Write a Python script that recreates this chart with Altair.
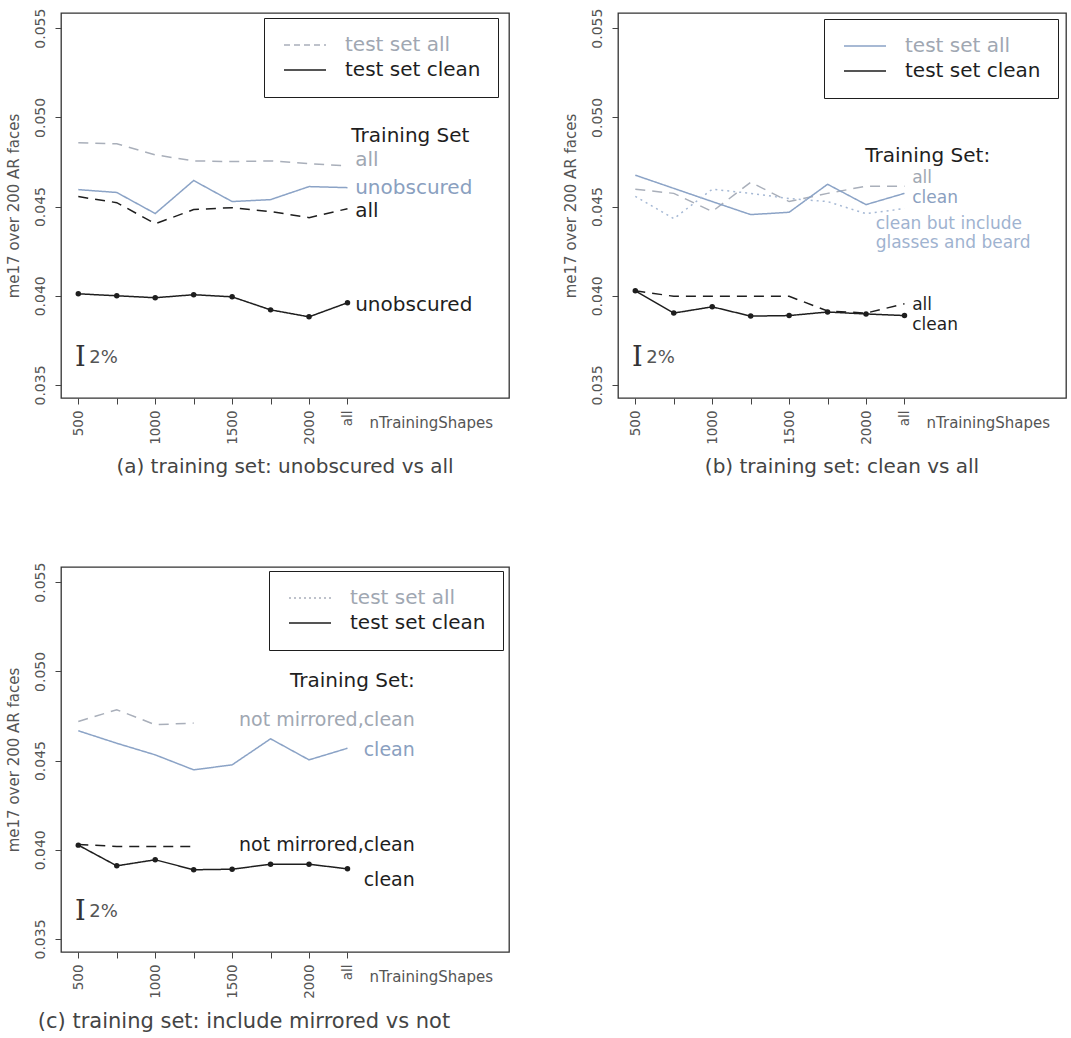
import altair as alt
import pandas as pd

# ---------------- data ----------------
x_ticks = ["500", "750", "1000", "1250", "1500", "1750", "2000", "all"]
y_ticks = [0.035, 0.040, 0.045, 0.050, 0.055]

# Panel (a): training set unobscured vs all
a_all_all = [0.04858, 0.04852, 0.04790, 0.04756, 0.04752, 0.04756, 0.04740, 0.04728]
a_all_unob = [0.04595, 0.04579, 0.04461, 0.04646, 0.04528, 0.04539, 0.04612, 0.04606]
a_clean_all = [0.04556, 0.04522, 0.04404, 0.04483, 0.04494, 0.04472, 0.04438, 0.04488]
a_clean_unob = [0.04011, 0.04000, 0.03989, 0.04006, 0.03994, 0.03921, 0.03882, 0.03961]

# Panel (b): training set clean vs all
b_all_all = [0.04597, 0.04574, 0.04472, 0.04636, 0.04528, 0.04574, 0.04614, 0.04614]
b_all_clean = [0.04676, 0.04602, 0.04528, 0.04455, 0.04468, 0.04625, 0.04511, 0.04574]
b_all_glasses = [0.04557, 0.04432, 0.04597, 0.04574, 0.04545, 0.04528, 0.04460, 0.04489]
b_clean_all = [0.04028, 0.03997, 0.03997, 0.03997, 0.03997, 0.03915, 0.03903, 0.03955]
b_clean_clean = [0.04028, 0.03903, 0.03938, 0.03886, 0.03889, 0.03909, 0.03898, 0.03889]

# Panel (c): include mirrored vs not
c_all_notmirr = [0.04719, 0.04785, 0.04701, 0.04710]
c_all_clean = [0.04667, 0.04597, 0.04532, 0.04448, 0.04476, 0.04622, 0.04504, 0.04569]
c_clean_notmirr = [0.04030, 0.04019, 0.04019, 0.04019]
c_clean_clean = [0.04026, 0.03910, 0.03944, 0.03888, 0.03891, 0.03919, 0.03919, 0.03893]

# line-end labels (text, series, x index, y value)
a_lab_text = ["all", "unobscured", "all", "unobscured"]
a_lab_series = ["all_all", "all_unob", "clean_all", "clean_unob"]
a_lab_x = [7.2, 7.2, 7.2, 7.2]
a_lab_y = [0.04760, 0.04604, 0.04475, 0.03951]

b_lab_text = ["all", "clean", "clean but include\nglasses and beard", "all", "clean"]
b_lab_series = ["all_all", "all_clean", "all_glasses", "clean_all", "clean_clean"]
b_lab_x = [7.2, 7.2, 6.25, 7.2, 7.2]
b_lab_y = [0.04660, 0.04548, 0.04445, 0.03947, 0.03835]

c_lab_text = ["not mirrored,clean", "clean", "not mirrored,clean", "clean"]
c_lab_series = ["all_notmirr", "all_clean", "clean_notmirr", "clean_clean"]
c_lab_x = [8.75, 8.75, 8.75, 8.75]
c_lab_y = [0.04725, 0.04562, 0.04028, 0.03831]

headers = ["Training Set", "Training Set:", "Training Set:"]
header_x = [7.1, 5.98, 8.75]
header_y = [0.04897, 0.04784, 0.04944]

legend_labels = ["test set all", "test set clean"]
captions = ["(a) training set: unobscured vs all",
            "(b) training set: clean vs all",
            "(c) training set: include mirrored vs not"]
scale_bar_text = ["I", "2%"]
scale_bar_y = 0.0365

# ---------------- styles ----------------
FONT = "DejaVu Sans"
AXIS_C = "#555555"
BLACK = "#1e1e1e"
GRAY = "#a9afba"
BLUE = "#8ba3c6"
DOTC = "#a5b8d4"
GRAY_T = "#a0a7b2"
BLUE_T = "#8aa0c0"
DOT_T = "#9fb3d0"
SOLID = [1, 0]
DASH = [10, 7]
DOT = [2, 4]

W, H = 448, 385
X_DOM = [-0.45, 11.2]
Y_DOM = [0.03427, 0.05585]

shown = [t if (i % 2 == 0 or i == len(x_ticks) - 1) else "" for i, t in enumerate(x_ticks)]
label_js = "[" + ",".join("'" + s + "'" for s in shown) + "]"

X = alt.X("idx:Q", scale=alt.Scale(domain=X_DOM, nice=False, zero=False),
          axis=alt.Axis(values=list(range(len(x_ticks))), labelExpr=label_js + "[datum.value]",
                        labelAngle=270, labelAlign="right", labelBaseline="middle",
                        labelPadding=6, labelFont=FONT, labelFontSize=13.5, labelColor=AXIS_C,
                        tickSize=6, tickColor="#444", domain=False, grid=False,
                        title="nTrainingShapes", titleX=308, titleY=24, titleAlign="left",
                        titleBaseline="middle", titleAngle=0, titleFont=FONT, titleFontSize=15,
                        titleFontWeight="normal", titleColor=AXIS_C, labelOverlap=False))
Y = alt.Y("value:Q", scale=alt.Scale(domain=Y_DOM, nice=False, zero=False),
          axis=alt.Axis(values=y_ticks, format=".3f", labelAngle=270, labelAlign="center",
                        labelBaseline="bottom", labelPadding=8, labelFont=FONT, labelFontSize=14,
                        labelColor=AXIS_C, tickSize=6, tickColor="#444", domain=False, grid=False,
                        title="me17 over 200 AR faces", titleFont=FONT, titleFontSize=15,
                        titleFontWeight="normal", titleColor=AXIS_C, titlePadding=12))


def build_panel(series, styles, leg_styles, legend_pos, lab_text, lab_series, lab_x, lab_y,
                lab_align, lab_size, lab_colors, header, hx, hy, caption, caption_size,
                caption_dx, point_key):
    rows = []
    for key, vals in series.items():
        for i, v in enumerate(vals):
            rows.append({"idx": i, "value": v, "series": key})
    df = pd.DataFrame(rows)
    keys = legend_labels + list(series.keys())
    all_styles = dict(zip(legend_labels, leg_styles))
    all_styles.update(styles)
    col_range = [all_styles[k][0] for k in keys]
    dash_range = [all_styles[k][1] for k in keys]

    def leg():
        return alt.Legend(orient="none", legendX=legend_pos[0], legendY=legend_pos[1],
                          values=legend_labels, title=None,
                          symbolType="M-1,0H5", symbolSize=196, symbolStrokeWidth=1.4,
                          labelFont=FONT, labelFontSize=20, labelOffset=44, labelLimit=400,
                          labelColor=alt.ExprRef(expr="datum.label == 'test set all' ? '" + GRAY_T + "' : '" + BLACK + "'"),
                          padding=17, rowPadding=5, strokeColor=BLACK, fillColor="white")

    lines = alt.Chart(df).mark_line(strokeWidth=1.5).encode(
        x=X, y=Y,
        color=alt.Color("series:N", scale=alt.Scale(domain=keys, range=col_range), legend=leg()),
        strokeDash=alt.StrokeDash("series:N", scale=alt.Scale(domain=keys, range=dash_range), legend=leg()),
    )
    pts = alt.Chart(df[df["series"] == point_key]).mark_circle(size=30, color=BLACK, opacity=1).encode(x=X, y=Y)

    layers = [lines, pts]
    lab_df = pd.DataFrame({"text": lab_text, "series": lab_series, "idx": lab_x, "value": lab_y})
    for i in range(len(lab_df)):
        sub = lab_df.iloc[[i]]
        multi = "\n" in sub["text"].iloc[0]
        layers.append(alt.Chart(sub).mark_text(
            align=lab_align, baseline="top" if multi else "middle", font=FONT, fontSize=lab_size,
            color=lab_colors[sub["series"].iloc[0]], lineBreak="\n", lineHeight=19).encode(
            x=X, y=Y, text="text:N"))
    hdf = pd.DataFrame({"text": [header], "idx": [hx], "value": [hy]})
    layers.append(alt.Chart(hdf).mark_text(align=lab_align, baseline="middle", font=FONT,
                                           fontSize=20, color=BLACK).encode(x=X, y=Y, text="text:N"))
    sdf1 = pd.DataFrame({"text": [scale_bar_text[0]], "idx": [0], "value": [scale_bar_y]})
    sdf2 = pd.DataFrame({"text": [scale_bar_text[1]], "idx": [0], "value": [scale_bar_y]})
    layers.append(alt.Chart(sdf1).mark_text(align="center", baseline="middle", dx=2,
                                            font="DejaVu Serif", fontSize=27, color="#333").encode(
        x=X, y=Y, text="text:N"))
    layers.append(alt.Chart(sdf2).mark_text(align="left", baseline="middle", dx=11,
                                            font=FONT, fontSize=18, color="#555").encode(
        x=X, y=Y, text="text:N"))

    return alt.layer(*layers).properties(
        width=W, height=H,
        title=alt.TitleParams(text=caption, orient="bottom", anchor="middle", offset=13,
                              fontSize=caption_size, font=FONT, fontWeight="normal", color="#444",
                              dx=caption_dx))


pa = build_panel(
    {"all_all": a_all_all, "all_unob": a_all_unob, "clean_all": a_clean_all, "clean_unob": a_clean_unob},
    {"all_all": (GRAY, DASH), "all_unob": (BLUE, SOLID), "clean_all": (BLACK, DASH), "clean_unob": (BLACK, SOLID)},
    [(GRAY, [6, 4]), (BLACK, SOLID)], (203, 5),
    a_lab_text, a_lab_series, a_lab_x, a_lab_y, "left", 20,
    {"all_all": GRAY_T, "all_unob": BLUE_T, "clean_all": BLACK, "clean_unob": BLACK},
    headers[0], header_x[0], header_y[0], captions[0], 20, 0, "clean_unob")

pb = build_panel(
    {"all_all": b_all_all, "all_clean": b_all_clean, "all_glasses": b_all_glasses,
     "clean_all": b_clean_all, "clean_clean": b_clean_clean},
    {"all_all": (GRAY, DASH), "all_clean": (BLUE, SOLID), "all_glasses": (DOTC, DOT),
     "clean_all": (BLACK, DASH), "clean_clean": (BLACK, SOLID)},
    [(BLUE, SOLID), (BLACK, SOLID)], (206, 6),
    b_lab_text, b_lab_series, b_lab_x, b_lab_y, "left", 17,
    {"all_all": GRAY_T, "all_clean": BLUE_T, "all_glasses": DOT_T, "clean_all": BLACK, "clean_clean": BLACK},
    headers[1], header_x[1], header_y[1], captions[1], 20, 0, "clean_clean")

pc = build_panel(
    {"all_notmirr": c_all_notmirr, "all_clean": c_all_clean,
     "clean_notmirr": c_clean_notmirr, "clean_clean": c_clean_clean},
    {"all_notmirr": (GRAY, DASH), "all_clean": (BLUE, SOLID),
     "clean_notmirr": (BLACK, DASH), "clean_clean": (BLACK, SOLID)},
    [(GRAY, [2, 3]), (BLACK, SOLID)], (208, 4),
    c_lab_text, c_lab_series, c_lab_x, c_lab_y, "right", 19,
    {"all_notmirr": GRAY_T, "all_clean": BLUE_T, "clean_notmirr": BLACK, "clean_clean": BLACK},
    headers[2], header_x[2], header_y[2], captions[2], 21, -41, "clean_clean")

chart = alt.concat(pa, pb, pc, columns=2, spacing={"row": 169, "column": 109}, bounds="flush").resolve_scale(
    color="independent", strokeDash="independent"
).resolve_legend(
    color="independent", strokeDash="independent"
).properties(
    padding={"left": 5, "top": 7, "right": 0, "bottom": 0},
    background="white",
).configure_view(stroke="#333333", strokeWidth=1.3)

chart.save("out.html", embed_options={"renderer": "svg", "actions": False})
